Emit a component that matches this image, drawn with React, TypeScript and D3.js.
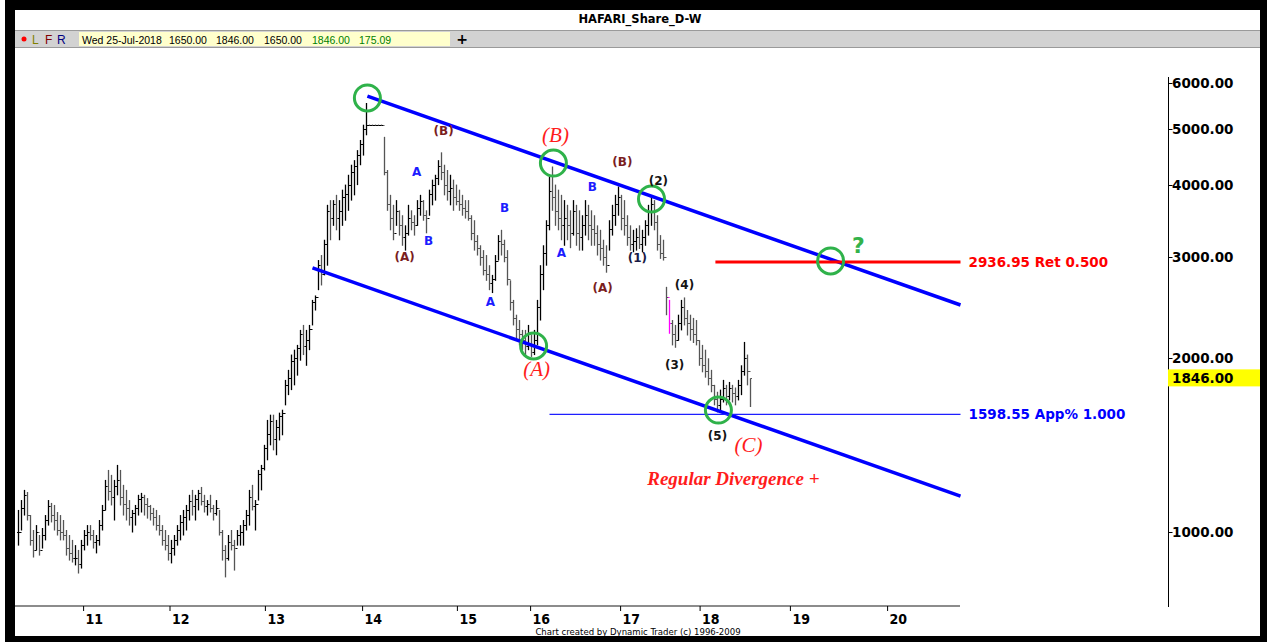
import React from "react";
import * as d3 from "d3";

// ---------- DATA ----------
// weekly bars: [high, low, close]
const bars: [number, number, number][] = [
  [1092, 949, 1000], [1136, 1008, 1100], [1183, 1070, 1160], [1173, 1049, 1070], [1070, 949, 970],
  [1008, 905, 930], [1028, 931, 1000], [988, 912, 930], [1016, 938, 990], [1070, 969, 1050],
  [1136, 1028, 1110], [1123, 1041, 1070], [1114, 1008, 1050], [1083, 988, 1010], [1070, 969, 1000],
  [1049, 969, 990], [1008, 912, 940], [988, 894, 920], [969, 887, 900], [949, 877, 900],
  [931, 849, 880], [969, 866, 950], [1008, 931, 990], [1028, 949, 1000], [1028, 969, 990],
  [1008, 938, 960], [988, 920, 970], [1049, 949, 1030], [1114, 1008, 1090], [1231, 1092, 1200],
  [1281, 1136, 1180], [1256, 1114, 1150], [1231, 1049, 1200], [1307, 1160, 1230], [1281, 1114, 1150],
  [1207, 1070, 1120], [1183, 1049, 1100], [1136, 1028, 1060], [1092, 1000, 1080], [1114, 1028, 1100],
  [1160, 1070, 1140], [1169, 1083, 1150], [1160, 1070, 1120], [1145, 1057, 1110], [1114, 1049, 1080],
  [1101, 1028, 1060], [1092, 1008, 1030], [1070, 988, 1010], [1028, 949, 970], [1008, 931, 950],
  [988, 894, 920], [969, 884, 940], [988, 912, 970], [1028, 949, 1010], [1070, 969, 1040],
  [1092, 988, 1060], [1114, 1008, 1090], [1160, 1049, 1130], [1183, 1070, 1110], [1160, 1049, 1140],
  [1183, 1092, 1170], [1197, 1114, 1130], [1160, 1083, 1110], [1136, 1070, 1120], [1160, 1083, 1100],
  [1114, 1049, 1080], [1136, 1070, 1100], [1092, 988, 1000], [1008, 894, 930], [949, 836, 900],
  [988, 894, 960], [1008, 931, 950], [969, 859, 940], [1008, 949, 990], [1028, 949, 1000],
  [1049, 949, 1030], [1092, 1008, 1070], [1183, 1028, 1150], [1207, 1092, 1110], [1136, 1008, 1120],
  [1281, 1136, 1260], [1307, 1183, 1290], [1416, 1281, 1400], [1564, 1334, 1480], [1597, 1416, 1560],
  [1597, 1388, 1450], [1564, 1361, 1520], [1610, 1444, 1590], [1629, 1474, 1610], [1835, 1661, 1800],
  [1910, 1730, 1850], [2030, 1765, 1980], [2070, 1799, 2000], [2110, 1870, 2080], [2240, 1985, 2200],
  [2285, 2030, 2100], [2240, 1945, 2150], [2285, 2070, 2250], [2525, 2285, 2500], [2570, 2425, 2550],
  [2960, 2630, 2900], [3020, 2680, 2800], [3210, 2790, 3150], [3690, 2900, 3600], [3760, 3210, 3500],
  [3760, 3400, 3700], [3840, 3340, 3500], [3760, 3210, 3600], [3920, 3400, 3800], [4000, 3470, 3850],
  [4160, 3610, 4000], [4330, 3760, 4200], [4410, 3840, 4300], [4590, 4000, 4500], [4780, 4330, 4700],
  [5080, 4500, 5000], [5540, 4880, 5080], [5080, 5080, 5080], [5080, 5080, 5080], [5080, 5080, 5080],
  [5080, 5080, 5080], [5080, 5080, 5080], [4840, 4160, 4200], [4240, 3610, 3700], [3840, 3340, 3500],
  [3690, 3210, 3300], [3760, 3400, 3600], [3610, 3270, 3400], [3540, 3140, 3250], [3400, 3080, 3300],
  [3690, 3270, 3500], [3610, 3340, 3450], [3540, 3270, 3400], [3760, 3400, 3650], [3840, 3540, 3750],
  [3760, 3470, 3550], [3610, 3300, 3500], [3920, 3540, 3850], [4080, 3690, 4000], [4160, 3760, 4100],
  [4410, 4000, 4300], [4550, 4080, 4200], [4330, 3840, 4000], [4240, 3760, 3900], [4160, 3690, 3950],
  [4080, 3610, 3800], [4000, 3690, 3750], [3920, 3610, 3700], [3840, 3540, 3650], [3760, 3500, 3600],
  [3760, 3470, 3500], [3540, 3210, 3300], [3470, 3080, 3200], [3270, 3020, 3100], [3140, 2900, 3000],
  [3080, 2790, 2850], [3020, 2730, 2800], [2900, 2630, 2700], [2790, 2600, 2750], [3020, 2730, 2950],
  [3270, 2960, 3200], [3340, 3020, 3150], [3210, 2940, 3000], [3080, 2680, 2750], [2730, 2425, 2500],
  [2525, 2285, 2350], [2380, 2150, 2250], [2330, 2110, 2200], [2240, 2070, 2150], [2240, 2030, 2100],
  [2285, 2070, 2200], [2195, 2015, 2050], [2240, 2030, 2150], [2525, 2110, 2450], [2900, 2330, 2800],
  [3140, 2630, 3050], [3470, 2900, 3400], [4130, 3340, 3900], [4300, 3610, 3800], [4000, 3400, 3600],
  [3920, 3340, 3500], [3840, 3210, 3400], [3760, 3140, 3500], [3690, 3210, 3400], [3610, 3110, 3300],
  [3760, 3270, 3600], [3690, 3140, 3300], [3610, 3080, 3250], [3540, 3080, 3400], [3760, 3270, 3550],
  [3690, 3210, 3400], [3610, 3140, 3350], [3540, 3140, 3300], [3400, 3020, 3150], [3340, 2960, 3100],
  [3210, 2900, 3000], [3140, 2820, 2900], [3470, 3080, 3350], [3690, 3270, 3550], [3840, 3400, 3700],
  [3970, 3540, 3800], [3840, 3340, 3500], [3760, 3270, 3400], [3540, 3140, 3250], [3400, 3080, 3150],
  [3340, 3060, 3200], [3360, 3080, 3250], [3400, 3100, 3150], [3340, 3060, 3250], [3470, 3140, 3400],
  [3690, 3270, 3600], [3810, 3400, 3700], [3760, 3340, 3450], [3540, 3080, 3150], [3270, 2980, 3050],
  [3210, 2960, 3000], [2660, 2380, 2550], [2525, 2210, 2300], [2330, 2110, 2200], [2285, 2090, 2150],
  [2380, 2150, 2300], [2525, 2240, 2450], [2550, 2285, 2350], [2425, 2195, 2300], [2380, 2150, 2250],
  [2350, 2130, 2200], [2330, 2110, 2150], [2150, 1945, 2000], [2110, 1895, 1950], [2070, 1855, 1900],
  [2000, 1799, 1850], [1910, 1750, 1800], [1799, 1661, 1700], [1750, 1615, 1660], [1765, 1629, 1700],
  [1835, 1680, 1780], [1799, 1661, 1720], [1820, 1694, 1780], [1799, 1680, 1740], [1780, 1661, 1720],
  [1835, 1694, 1800], [1945, 1730, 1900], [2135, 1870, 2000], [2030, 1799, 1900], [1846, 1650, 1846],
];
const pinkBarIndex = 217;

const lastBarInfo = ["Wed 25-Jul-2018", "1650.00", "1846.00", "1650.00", "1846.00", "175.09"];

const yTickValues = [1000, 2000, 3000, 4000, 5000, 6000];
const yearLabels = ["11", "12", "13", "14", "15", "16", "17", "18", "19", "20"];
const yearTickIndex = [21.7, 50.5, 82.3, 114.7, 146.3, 170.7, 200.7, 227.2, 257.3, 289.7];

const upperChannel: [number, number][] = [[116.3, 5695], [314, 2474]];
const lowerChannel: [number, number][] = [[98, 2868], [314, 1154]];

const retLevel = { from: 232.3, to: 314, price: 2936.95, label: "2936.95 Ret 0.500" };
const appLevel = { from: 177, to: 314, price: 1598.55, label: "1598.55 App% 1.000" };
const lastClose = 1846;

const circles: [number, number][] = [
  [116.3, 5652], [178.3, 4360], [211, 3777], [270.7, 2950], [171.7, 2101], [233.3, 1627],
];

type Lbl = { t: string; i: number; p: number; k: string };
const waveLabels: Lbl[] = [
  { t: "A", i: 132.7, p: 4206, k: "blue" },
  { t: "B", i: 136.7, p: 3194, k: "blue" },
  { t: "(A)", i: 128.7, p: 2997, k: "brown" },
  { t: "(B)", i: 141.7, p: 4954, k: "brown" },
  { t: "B", i: 162, p: 3643, k: "blue" },
  { t: "A", i: 157.3, p: 2504, k: "blue" },
  { t: "(B)", i: 179, p: 4876, k: "red" },
  { t: "(A)", i: 172.7, p: 1916, k: "red" },
  { t: "B", i: 191.3, p: 3963, k: "blue" },
  { t: "A", i: 181, p: 3045, k: "blue" },
  { t: "(B)", i: 201.3, p: 4377, k: "brown" },
  { t: "(A)", i: 194.7, p: 2648, k: "brown" },
  { t: "(1)", i: 206.3, p: 2985, k: "navy" },
  { t: "(2)", i: 213.3, p: 4057, k: "black" },
  { t: "(4)", i: 222, p: 2679, k: "black" },
  { t: "(3)", i: 218.7, p: 1947, k: "black" },
  { t: "(5)", i: 233, p: 1467, k: "black" },
  { t: "(C)", i: 243.3, p: 1415, k: "red" },
  { t: "Regular Divergence +", i: 238.3, p: 1240, k: "note" },
  { t: "?", i: 280, p: 3131, k: "green" },
];

const W = 1267;
const H = 642;
const SANS = "'DejaVu Sans', Verdana, sans-serif";
const SERIF = "'Liberation Serif', 'Times New Roman', serif";
const NARROW = "'Liberation Sans Narrow', 'DejaVu Sans Condensed', 'Liberation Sans', sans-serif";

const labelStyle: Record<string, any> = {
  blue: { fill: "#1c1cff", fontFamily: SANS, fontWeight: "bold", fontSize: 12 },
  brown: { fill: "#7a1e1e", fontFamily: SANS, fontWeight: "bold", fontSize: 12 },
  navy: { fill: "#1a1a44", fontFamily: SANS, fontWeight: "bold", fontSize: 12 },
  black: { fill: "#141414", fontFamily: SANS, fontWeight: "bold", fontSize: 12 },
  red: { fill: "#ff1c1c", fontFamily: SERIF, fontStyle: "italic", fontSize: 21 },
  note: { fill: "#ff1c1c", fontFamily: SERIF, fontStyle: "italic", fontWeight: "bold", fontSize: 19 },
  green: { fill: "#33b24a", fontFamily: SANS, fontWeight: "bold", fontSize: 22 },
};

export default function App() {
  const x = d3.scaleLinear().domain([0, 314]).range([18.5, 960.5]);
  const y = d3.scaleLog().domain([1000, 6000]).range([532, 83]);
  const line = d3.line<[number, number]>().x((d) => x(d[0])).y((d) => y(d[1]));

  const axisX = 1168.5;
  const infoX = [82, 169, 216, 264, 312, 359];
  const infoColors = ["#000", "#000", "#000", "#000", "#008000", "#008000"];

  return (
    <svg width={W} height={H} style={{ position: "absolute", left: 0, top: 0, display: "block" }}>
      <rect x={0} y={0} width={W} height={H} fill="#ffffff" />
      <rect x={5} y={0} width={W - 5} height={H} fill="#000000" />
      <rect x={15} y={10} width={1245} height={626} fill="#ffffff" />

      {/* title */}
      <text x={640} y={23} textAnchor="middle" fontFamily={SANS} fontWeight="bold" fontSize={11.5} fill="#000">
        HAFARI_Share_D-W
      </text>

      {/* toolbar */}
      <rect x={15} y={30} width={1245} height={17} fill="#d2d2d2" />
      <line x1={15} x2={1260} y1={30.5} y2={30.5} stroke="#9a9a9a" />
      <line x1={15} x2={1260} y1={47.5} y2={47.5} stroke="#9a9a9a" />
      <circle cx={24} cy={39} r={2.5} fill="#ff0000" />
      <text x={32} y={43.5} fontFamily="'Liberation Sans', Arial, sans-serif" fontSize={12} fill="#808000">L</text>
      <text x={45} y={43.5} fontFamily="'Liberation Sans', Arial, sans-serif" fontSize={12} fill="#800000">F</text>
      <text x={57} y={43.5} fontFamily="'Liberation Sans', Arial, sans-serif" fontSize={12} fill="#000080">R</text>
      <rect x={79} y={32} width={371} height={14} fill="#ffffcc" />
      {lastBarInfo.map((t, k) => (
        <text key={k} x={infoX[k]} y={43.5} fontFamily="'Liberation Sans', Arial, sans-serif" fontSize={10.5} fill={infoColors[k]}>
          {t}
        </text>
      ))}
      <text x={462} y={44} textAnchor="middle" fontFamily={SANS} fontWeight="bold" fontSize={14} fill="#000">+</text>

      {/* price bars */}
      <g>
        {bars.map((b, i) => {
          const prev = i > 0 ? bars[i - 1][2] : b[2];
          const cx = x(i);
          const col = i === pinkBarIndex ? "#ff00ff" : b[2] >= prev ? "#000000" : "#555555";
          const yo = Math.round(y(prev)) + 0.5;
          const yc = Math.round(y(b[2])) + 0.5;
          return (
            <g key={i} stroke={col}>
              <line x1={cx} x2={cx} y1={y(b[0])} y2={y(b[1]) + 0.5} strokeWidth={1.3} />
              <line x1={cx - 1.5} x2={cx} y1={yo} y2={yo} strokeWidth={1} />
              <line x1={cx} x2={cx + 1.5} y1={yc} y2={yc} strokeWidth={1} />
            </g>
          );
        })}
      </g>

      {/* channel */}
      <path d={line(upperChannel) || ""} stroke="#0000ff" strokeWidth={3.5} fill="none" />
      <path d={line(lowerChannel) || ""} stroke="#0000ff" strokeWidth={3.5} fill="none" />

      {/* levels */}
      <line x1={x(retLevel.from)} x2={x(retLevel.to)} y1={y(retLevel.price)} y2={y(retLevel.price)} stroke="#ff0000" strokeWidth={3} />
      <line x1={x(appLevel.from)} x2={x(appLevel.to)} y1={y(appLevel.price)} y2={y(appLevel.price)} stroke="#1f1fff" strokeWidth={1.3} />
      <text x={x(retLevel.to) + 8} y={y(retLevel.price) + 5} fontFamily={SANS} fontWeight="bold" fontSize={13.5} fill="#ff0000">
        {retLevel.label}
      </text>
      <text x={x(appLevel.to) + 8} y={y(appLevel.price) + 5} fontFamily={SANS} fontWeight="bold" fontSize={13.5} fill="#0000ff">
        {appLevel.label}
      </text>

      {/* circles */}
      {circles.map((c, k) => (
        <circle key={k} cx={x(c[0])} cy={y(c[1])} r={13} fill="none" stroke="#2fb24a" strokeWidth={3} />
      ))}

      {/* wave labels */}
      {waveLabels.map((l, k) => (
        <text key={k} x={x(l.i)} y={y(l.p)} textAnchor="middle" dominantBaseline="central" {...labelStyle[l.k]}>
          {l.t}
        </text>
      ))}

      {/* x axis */}
      <line x1={15} x2={960} y1={606} y2={606} stroke="#8c8c8c" strokeWidth={2} />
      {yearTickIndex.map((t, k) => (
        <g key={k}>
          <line x1={x(t)} x2={x(t)} y1={606} y2={611} stroke="#000" />
          <text x={x(t) + 2} y={624} fontFamily={NARROW} fontWeight="bold" fontSize={14} fill="#000">
            {yearLabels[k]}
          </text>
        </g>
      ))}
      <text x={638} y={635} textAnchor="middle" fontFamily={NARROW} fontSize={9.5} fill="#000">
        Chart created by Dynamic Trader  (c) 1996-2009
      </text>

      {/* y axis */}
      <line x1={axisX} x2={axisX} y1={77} y2={607} stroke="#000" />
      {yTickValues.map((v) => (
        <g key={v}>
          <line x1={axisX} x2={axisX + 4} y1={Math.round(y(v)) + 0.5} y2={Math.round(y(v)) + 0.5} stroke="#000" />
          <text x={1172} y={y(v) + 5} fontFamily={SANS} fontWeight="bold" fontSize={13.5} fill="#000">
            {v.toFixed(2)}
          </text>
        </g>
      ))}
      <rect x={1168} y={y(lastClose) - 9} width={92} height={17} fill="#ffff00" />
      <text x={1172} y={y(lastClose) + 5} fontFamily={SANS} fontWeight="bold" fontSize={13.5} fill="#000">
        {lastClose.toFixed(2)}
      </text>
    </svg>
  );
}
